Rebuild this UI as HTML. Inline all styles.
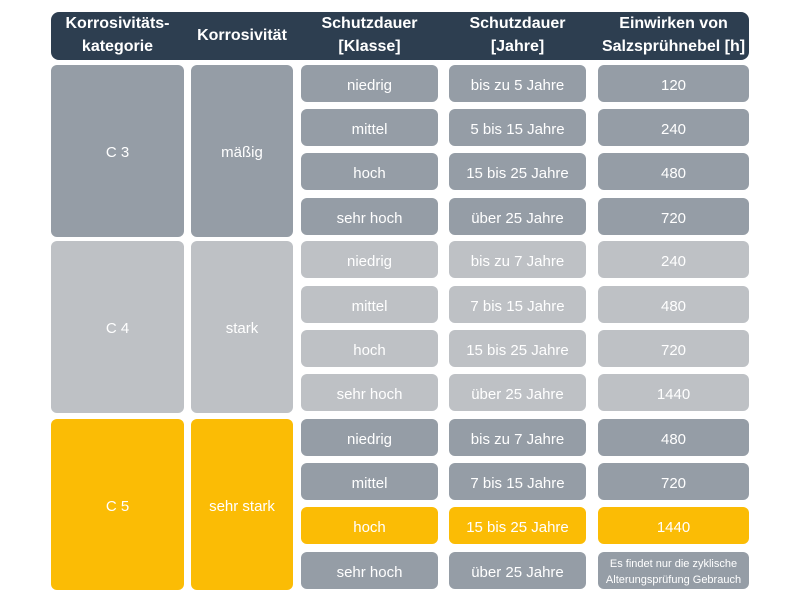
<!DOCTYPE html>
<html><head><meta charset="utf-8"><style>
body{margin:0;width:800px;height:600px;background:#fff;font-family:"Liberation Sans","DejaVu Sans",sans-serif;position:relative;overflow:hidden}
.b{position:absolute;display:flex;align-items:center;justify-content:center;text-align:center;color:#fff;border-radius:6px;font-size:15px;box-sizing:border-box;padding-top:3px}
.h{position:absolute;left:51px;top:12px;width:698px;height:48px;background:#2d3e50;border-radius:8px}
.ht{position:absolute;color:#fff;font-weight:bold;font-size:16px;text-align:center;line-height:23px;display:flex;align-items:center;justify-content:center;height:48px;top:11px}
.d{background:#959da6}.l{background:#bec1c5}.y{background:#fbbc05}
</style></head><body>
<div class="h"></div>
<div class="ht" style="left:51px;width:133px">Korrosivitäts-<br>kategorie</div>
<div class="ht" style="left:191px;width:102px">Korrosivität</div>
<div class="ht" style="left:301px;width:137px">Schutzdauer<br>[Klasse]</div>
<div class="ht" style="left:449px;width:137px">Schutzdauer<br>[Jahre]</div>
<div class="ht" style="left:598px;width:151px">Einwirken von<br>Salzsprühnebel [h]</div>

<div class="b d" style="left:51px;top:65px;width:133px;height:172px">C 3</div>
<div class="b d" style="left:191px;top:65px;width:102px;height:172px">mäßig</div>
<div class="b l" style="left:51px;top:241px;width:133px;height:172px">C 4</div>
<div class="b l" style="left:191px;top:241px;width:102px;height:172px">stark</div>
<div class="b y" style="left:51px;top:419px;width:133px;height:171px">C 5</div>
<div class="b y" style="left:191px;top:419px;width:102px;height:171px">sehr stark</div>

<div id="rows"></div>
<script>
var rows=[
[65,'d','niedrig','bis zu 5 Jahre','120'],
[109,'d','mittel','5 bis 15 Jahre','240'],
[153,'d','hoch','15 bis 25 Jahre','480'],
[198,'d','sehr hoch','über 25 Jahre','720'],
[241,'l','niedrig','bis zu 7 Jahre','240'],
[286,'l','mittel','7 bis 15 Jahre','480'],
[330,'l','hoch','15 bis 25 Jahre','720'],
[374,'l','sehr hoch','über 25 Jahre','1440'],
[419,'d','niedrig','bis zu 7 Jahre','480'],
[463,'d','mittel','7 bis 15 Jahre','720'],
[507,'y','hoch','15 bis 25 Jahre','1440'],
[552,'d','sehr hoch','über 25 Jahre','<span style="font-size:11px;line-height:16px">Es findet nur die zyklische<br>Alterungsprüfung Gebrauch</span>']];
var h='';
rows.forEach(function(r){
h+='<div class="b '+r[1]+'" style="left:301px;top:'+r[0]+'px;width:137px;height:37px">'+r[2]+'</div>';
h+='<div class="b '+r[1]+'" style="left:449px;top:'+r[0]+'px;width:137px;height:37px">'+r[3]+'</div>';
h+='<div class="b '+r[1]+'" style="left:598px;top:'+r[0]+'px;width:151px;height:37px">'+r[4]+'</div>';
});
document.getElementById('rows').innerHTML=h;
</script>
</body></html>
